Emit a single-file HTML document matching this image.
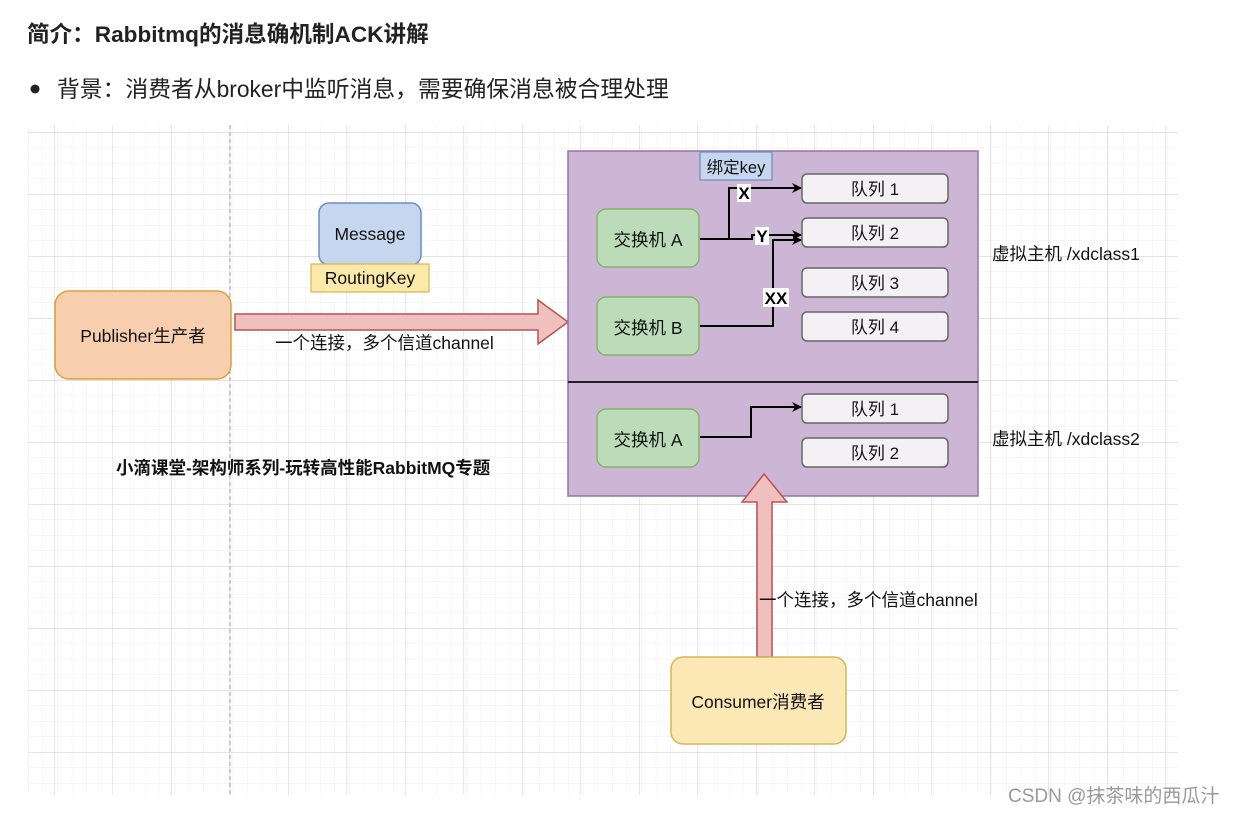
<!DOCTYPE html>
<html><head><meta charset="utf-8"><style>
html,body{margin:0;padding:0;background:#fff;}
body{width:1235px;height:814px;overflow:hidden;position:relative;font-family:"Liberation Sans","Noto Sans CJK SC",sans-serif;}
</style></head><body>
<svg width="1235" height="814" xmlns="http://www.w3.org/2000/svg" style="position:absolute;left:0;top:0">
<defs>
<pattern id="minor" width="14.6" height="15.5" patternUnits="userSpaceOnUse" x="28" y="132">
<path d="M0 0H14.6M0 0V15.5" stroke="#efefef" stroke-width="1" fill="none"/>
</pattern>
<pattern id="major" width="58.5" height="62" patternUnits="userSpaceOnUse" x="54" y="132">
<path d="M0 0H58.5M0 0V62" stroke="#d4d4d4" stroke-width="1.2" fill="none"/>
</pattern>
<marker id="ah" markerWidth="10" markerHeight="10" refX="9" refY="5" orient="auto" markerUnits="userSpaceOnUse">
<path d="M0 0L10 5L0 10L3 5Z" fill="#000"/>
</marker>
</defs>
<rect x="28" y="125" width="1150" height="670" fill="url(#minor)"/>
<rect x="28" y="125" width="1150" height="670" fill="url(#major)"/>
<line x1="230" y1="125" x2="230" y2="795" stroke="#999" stroke-dasharray="4,3"/>

<text x="27" y="42" font-size="22.6" font-weight="bold" fill="#222">简介：Rabbitmq的消息确机制ACK讲解</text>
<circle cx="35" cy="89" r="4.5" fill="#222"/>
<text x="57" y="97" font-size="22.8" fill="#222">背景：消费者从broker中监听消息，需要确保消息被合理处理</text>

<g font-size="17.5" fill="#111">
<rect x="55" y="291" width="176" height="88" rx="14" fill="#f8cfae" stroke="#d6a23a" stroke-width="1.5"/>
<text x="143" y="342" text-anchor="middle">Publisher生产者</text>
<rect x="319" y="203" width="102" height="62" rx="10" fill="#c5d6ee" stroke="#6c8ebf" stroke-width="1.5"/>
<text x="370" y="240" text-anchor="middle">Message</text>
<rect x="311" y="264" width="118" height="28" fill="#fbeaa9" stroke="#d6b656" stroke-width="1.2"/>
<text x="370" y="284" text-anchor="middle">RoutingKey</text>
<path d="M235 314H538V300L568 322L538 344V330H235Z" fill="#efc0bd" stroke="#b85450" stroke-width="1.5"/>
<text x="275" y="349">一个连接，多个信道channel</text>
<text x="116" y="474" font-weight="bold">小滴课堂-架构师系列-玩转高性能RabbitMQ专题</text>
</g>

<rect x="568" y="151" width="410" height="231" fill="#cdb5d6" stroke="#9673a6" stroke-width="1.5"/>
<rect x="568" y="382" width="410" height="114" fill="#cdb5d6" stroke="#9673a6" stroke-width="1.5"/>
<line x1="568" y1="382" x2="978" y2="382" stroke="#222" stroke-width="2"/>

<rect x="700" y="152" width="72" height="28" fill="#c5d6ee" stroke="#6c8ebf" stroke-width="1.2"/>
<text x="736" y="173" font-size="16.5" text-anchor="middle" fill="#111">绑定key</text>

<g fill="#bcdcb9" stroke="#82b366" stroke-width="1.5">
<rect x="597" y="209" width="102" height="58" rx="9"/>
<rect x="597" y="297" width="102" height="58" rx="9"/>
<rect x="597" y="409" width="102" height="58" rx="9"/>
</g>
<g font-size="17.5" text-anchor="middle" fill="#111">
<text x="648" y="246">交换机 A</text>
<text x="648" y="334">交换机 B</text>
<text x="648" y="446">交换机 A</text>
</g>
<g fill="#f3f1f3" stroke="#666" stroke-width="1.5">
<rect x="802" y="174" width="146" height="29" rx="5"/>
<rect x="802" y="218" width="146" height="29" rx="5"/>
<rect x="802" y="268" width="146" height="29" rx="5"/>
<rect x="802" y="312" width="146" height="29" rx="5"/>
<rect x="802" y="394" width="146" height="29" rx="5"/>
<rect x="802" y="438" width="146" height="29" rx="5"/>
</g>
<g font-size="17" text-anchor="middle" fill="#111">
<text x="875" y="195">队列 1</text>
<text x="875" y="239">队列 2</text>
<text x="875" y="289">队列 3</text>
<text x="875" y="333">队列 4</text>
<text x="875" y="415">队列 1</text>
<text x="875" y="459">队列 2</text>
</g>
<g stroke="#000" stroke-width="2" fill="none" marker-end="url(#ah)">
<path d="M700 239H729V188H801"/>
<path d="M700 239H752V235H801"/>
<path d="M700 326H773V240H801"/>
<path d="M700 437H751V407H801"/>
</g>
<rect x="737" y="184" width="14" height="18" fill="#fff"/>
<text x="744" y="199" font-size="17" font-weight="bold" text-anchor="middle" fill="#000">X</text>
<rect x="755" y="227" width="14" height="18" fill="#fff"/>
<text x="762" y="242" font-size="17" font-weight="bold" text-anchor="middle" fill="#000">Y</text>
<rect x="763" y="288" width="26" height="19" fill="#fff"/>
<text x="776" y="304" font-size="17" font-weight="bold" text-anchor="middle" fill="#000">XX</text>

<text x="992" y="260" font-size="17.5" fill="#111">虚拟主机 /xdclass1</text>
<text x="992" y="445" font-size="17.5" fill="#111">虚拟主机 /xdclass2</text>

<path d="M757 657V502H742L764 474L787 502H772V657Z" fill="#efc0bd" stroke="#b85450" stroke-width="1.5"/>
<text x="759" y="606" font-size="17.5" fill="#111">一个连接，多个信道channel</text>
<rect x="671" y="657" width="175" height="87" rx="12" fill="#fbe8b5" stroke="#d6b656" stroke-width="1.5"/>
<text x="758" y="708" font-size="17.5" text-anchor="middle" fill="#111">Consumer消费者</text>

<text x="1008" y="802" font-size="19" fill="#999">CSDN @抹茶味的西瓜汁</text>
</svg>
</body></html>
